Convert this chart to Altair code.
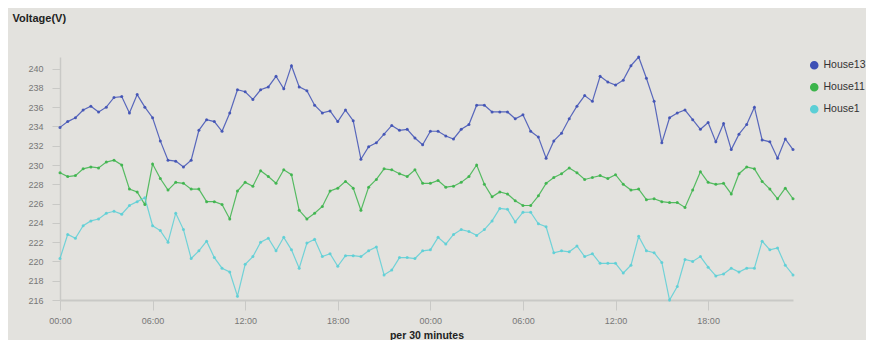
import altair as alt
import pandas as pd

series = ["House13", "House11", "House1"]
colors = ["#3f51b5", "#3cb44b", "#5ccfd6"]

house13 = [233.9, 234.5, 234.9, 235.7, 236.1, 235.5, 236.0, 237.0, 237.1, 235.4,
           237.3, 236.0, 234.9, 232.5, 230.5, 230.4, 229.8, 230.5, 233.6, 234.7,
           234.5, 233.5, 235.4, 237.8, 237.6, 236.8, 237.8, 238.1, 239.2, 237.9,
           240.3, 238.1, 237.7, 236.2, 235.4, 235.6, 234.5, 235.7, 234.6, 230.6,
           231.9, 232.3, 233.2, 234.1, 233.6, 233.7, 232.8, 232.1, 233.5, 233.5,
           233.0, 232.7, 233.7, 234.2, 236.2, 236.2, 235.5, 235.5, 235.5, 234.8,
           235.2, 233.5, 232.9, 230.7, 232.5, 233.3, 234.8, 236.1, 237.2, 236.6,
           239.2, 238.6, 238.3, 238.8, 240.3, 241.2, 239.0, 236.6, 232.3, 234.9,
           235.4, 235.7, 234.7, 233.7, 234.4, 232.4, 234.3, 231.6, 233.2, 234.2,
           236.0, 232.6, 232.4, 230.7, 232.7, 231.6]

house11 = [229.2, 228.8, 228.9, 229.6, 229.8, 229.7, 230.3, 230.5, 230.0, 227.5,
           227.2, 225.9, 230.1, 228.6, 227.4, 228.2, 228.1, 227.5, 227.5, 226.2,
           226.2, 225.9, 224.4, 227.3, 228.2, 227.8, 229.4, 228.8, 228.1, 229.5,
           229.0, 225.3, 224.4, 225.0, 225.7, 227.3, 227.6, 228.3, 227.6, 225.3,
           227.7, 228.5, 229.6, 229.5, 229.1, 228.8, 229.5, 228.1, 228.1, 228.4,
           227.7, 227.8, 228.2, 228.8, 230.0, 228.0, 226.7, 227.2, 227.0, 226.3,
           225.8, 225.8, 226.8, 228.1, 228.7, 229.1, 229.7, 229.2, 228.5, 228.7,
           228.9, 228.6, 229.0, 228.0, 227.4, 227.5, 226.4, 226.5, 226.2, 226.1,
           226.1, 225.6, 227.4, 229.3, 228.2, 228.0, 228.1, 227.0, 229.1, 229.8,
           229.6, 228.3, 227.5, 226.5, 227.6, 226.5]

house1 = [220.3, 222.8, 222.4, 223.7, 224.2, 224.4, 225.0, 225.2, 224.9, 225.8,
          226.2, 226.6, 223.7, 223.2, 222.0, 225.0, 223.3, 220.3, 221.1, 222.1,
          220.4, 219.3, 218.9, 216.4, 219.7, 220.5, 222.0, 222.4, 221.1, 222.5,
          221.2, 219.3, 221.9, 222.3, 220.5, 220.8, 219.5, 220.6, 220.6, 220.5,
          221.1, 221.5, 218.6, 219.1, 220.4, 220.4, 220.3, 221.1, 221.2, 222.5,
          221.8, 222.8, 223.3, 223.1, 222.7, 223.3, 224.2, 225.5, 225.4, 224.1,
          225.1, 225.1, 223.9, 223.6, 220.9, 221.1, 221.0, 221.6, 220.5, 220.8,
          219.8, 219.8, 219.8, 218.8, 219.6, 222.6, 221.1, 220.9, 219.9, 216.0,
          217.4, 220.2, 220.0, 220.5, 219.4, 218.5, 218.7, 219.3, 218.9, 219.3,
          219.3, 222.1, 221.2, 221.4, 219.6, 218.6]

y_ticks = [216, 218, 220, 222, 224, 226, 228, 230, 232, 234, 236, 238, 240]
x_tick_pos = [0, 12, 24, 36, 48, 60, 72, 84]
x_tick_labels = ["00:00", "06:00", "12:00", "18:00", "00:00", "06:00", "12:00", "18:00"]

rows = []
for name, vals in zip(series, [house13, house11, house1]):
    for i, v in enumerate(vals):
        rows.append({"slot": i, "house": name, "value": v})
df = pd.DataFrame(rows)

FONT = "Liberation Sans"
label_expr = "[" + ",".join("'%s'" % s for s in x_tick_labels) + "][round(datum.value / 12)]"

x_enc = alt.X(
    "slot:Q",
    scale=alt.Scale(domain=[0, len(house13) - 1], nice=False, zero=False),
    axis=alt.Axis(
        title="per 30 minutes",
        values=x_tick_pos,
        labelExpr=label_expr,
        labelFlush=False,
        grid=False,
        domainColor="#c9c9c6",
        domainWidth=2,
        tickColor="#c9c9c6",
        tickSize=10,
        labelColor="#777777",
        labelFontSize=9,
        labelPadding=6,
        labelFont=FONT,
        titleFont=FONT,
        titleFontSize=10.5,
        titleFontWeight="bold",
        titleColor="#222222",
        titleY=35,
        titleBaseline="middle",
    ),
)
y_enc = alt.Y(
    "value:Q",
    scale=alt.Scale(domain=[216, 241.2], nice=False, zero=False),
    axis=alt.Axis(
        title="Voltage(V)",
        values=y_ticks,
        labelFlush=False,
        grid=False,
        domainColor="#c9c9c6",
        domainWidth=1.5,
        tickColor="#c9c9c6",
        tickSize=8,
        labelColor="#777777",
        labelFontSize=9,
        labelPadding=9,
        labelFont=FONT,
        titleFont=FONT,
        titleFontSize=11,
        titleFontWeight="bold",
        titleColor="#222222",
        titleAngle=0,
        titleAlign="left",
        titleBaseline="middle",
        titleX=-48,
        titleY=-39,
    ),
)

chart = (
    alt.Chart(df)
    .mark_line(
        strokeWidth=1.2,
        opacity=0.85,
        point=alt.OverlayMarkDef(filled=True, size=9, opacity=0.9),
    )
    .encode(
        x=x_enc,
        y=y_enc,
        color=alt.Color(
            "house:N",
            scale=alt.Scale(domain=series, range=colors),
            legend=alt.Legend(title=None, symbolType="circle"),
        ),
    )
    .properties(
        width=733,
        height=243,
        background="#e3e2de",
        padding={"left": 52, "top": 49, "right": 73, "bottom": 40},
        autosize=alt.AutoSizeParams(type="none"),
    )
    .configure_view(stroke=None)
    .configure_legend(
        orient="right",
        offset=10,
        padding=3,
        symbolSize=50,
        symbolOpacity=1,
        labelFontSize=10.5,
        labelFont=FONT,
        labelColor="#333333",
        labelOffset=4,
        rowPadding=8,
        labelLimit=80,
    )
)

chart.save("out.html", embed_options={"renderer": "svg", "actions": False})
